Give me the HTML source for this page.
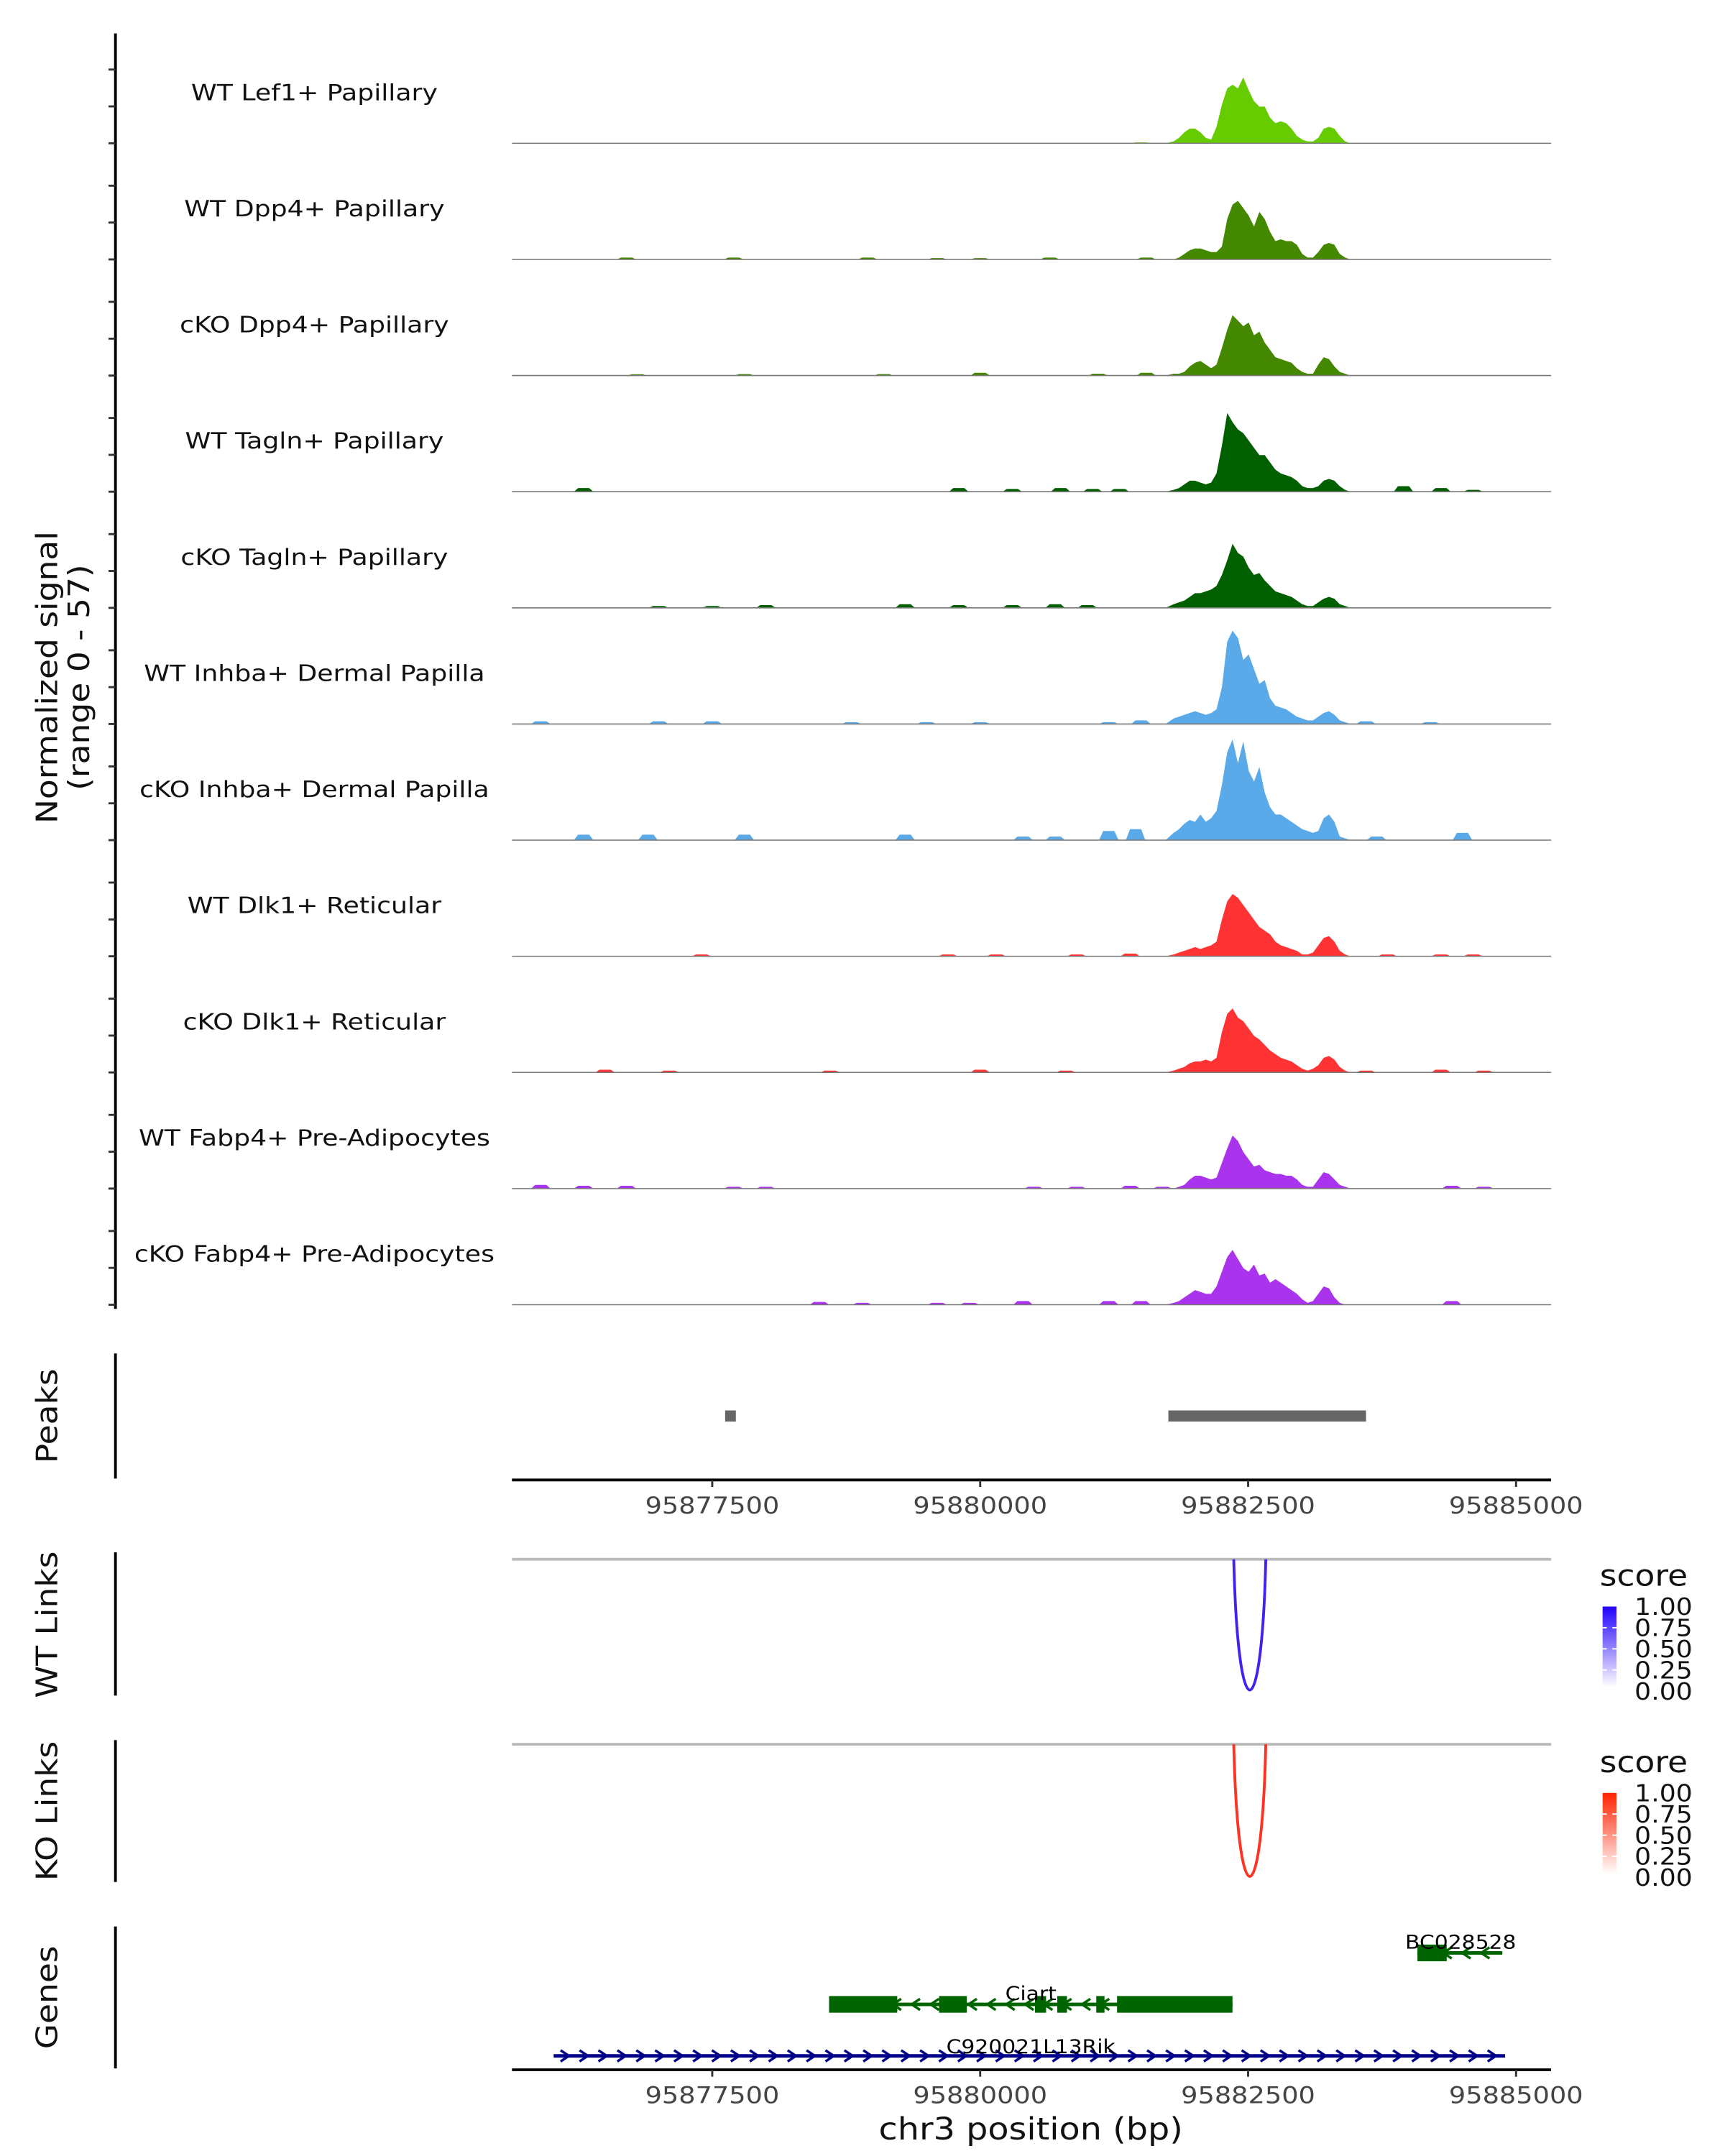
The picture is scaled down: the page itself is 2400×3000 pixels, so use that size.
<!DOCTYPE html>
<html><head><meta charset="utf-8">
<style>
html,body{margin:0;padding:0;background:#fff;}
svg{display:block;font-family:"DejaVu Sans","Liberation Sans",sans-serif;}
</style></head>
<body>
<svg id="chart" xmlns="http://www.w3.org/2000/svg" width="2400" height="3000" viewBox="0 0 1240 1550">
<defs>
<linearGradient id="gBlue" x1="0" y1="1" x2="0" y2="0"><stop offset="0" stop-color="#ffffff"/><stop offset="1" stop-color="#2200ff"/></linearGradient>
<linearGradient id="gRed" x1="0" y1="1" x2="0" y2="0"><stop offset="0" stop-color="#ffffff"/><stop offset="1" stop-color="#ff2200"/></linearGradient>
</defs>
<g id="tracks"></g>
<g id="static">
  <text class="w" transform="translate(41,487) rotate(-90)" text-anchor="middle" font-size="21" fill="#111">Normalized signal</text>
  <text class="w" transform="translate(64,487) rotate(-90)" text-anchor="middle" font-size="21" fill="#111">(range 0 - 57)</text>
  <text class="w" transform="translate(41,1018) rotate(-90)" text-anchor="middle" font-size="21" fill="#111">Peaks</text>
  <line x1="83" y1="973" x2="83" y2="1063" stroke="#000" stroke-width="2"/>
  <text class="w" transform="translate(41,1168) rotate(-90)" text-anchor="middle" font-size="21" fill="#111">WT Links</text>
  <line x1="83" y1="1116" x2="83" y2="1219" stroke="#000" stroke-width="2"/>
  <text class="w" transform="translate(41,1302) rotate(-90)" text-anchor="middle" font-size="21" fill="#111">KO Links</text>
  <line x1="83" y1="1251" x2="83" y2="1353" stroke="#000" stroke-width="2"/>
  <text class="w" transform="translate(41,1436) rotate(-90)" text-anchor="middle" font-size="21" fill="#111">Genes</text>
  <line x1="83" y1="1385" x2="83" y2="1487" stroke="#000" stroke-width="2"/>
  <line x1="368" y1="1121" x2="1115" y2="1121" stroke="#bbb" stroke-width="2"/>
  <line x1="368" y1="1254" x2="1115" y2="1254" stroke="#bbb" stroke-width="2"/>
  <text class="w" x="1150" y="1140" font-size="21" fill="#111">score</text>
  <rect x="1152" y="1155" width="10" height="58" fill="url(#gBlue)"/>
  <text class="w" x="1150" y="1274" font-size="21" fill="#111">score</text>
  <rect x="1152" y="1289" width="10" height="58" fill="url(#gRed)"/>
  <text class="w" x="741" y="1538" text-anchor="middle" font-size="22" fill="#111">chr3 position (bp)</text>
</g>
<g id="dyn"></g>
</svg>
<script>
// ---- data ----
const trackNames = ["WT Lef1+ Papillary","WT Dpp4+ Papillary","cKO Dpp4+ Papillary","WT Tagln+ Papillary","cKO Tagln+ Papillary","WT Inhba+ Dermal Papilla","cKO Inhba+ Dermal Papilla","WT Dlk1+ Reticular","cKO Dlk1+ Reticular","WT Fabp4+ Pre-Adipocytes","cKO Fabp4+ Pre-Adipocytes"];
const trackColors = ["#66cc00","#448800","#448800","#006000","#006000","#5aa9e9","#5aa9e9","#ff3333","#ff3333","#aa33ee","#aa33ee"];
const binStart = 95881780;
const binSize = 50;
const lef1WT   = [1,3,6,8,8,6,3,2,9,21,30,32,30,36,29,23,20,20,14,11,12,11,8,4,2,1,1,3,8,9,8,4,1,0];
const dpp4WT   = [0,1,3,5,6,6,5,4,4,7,22,30,32,28,24,18,26,22,15,10,11,10,10,8,3,1,1,4,8,9,8,3,1,0];
const dpp4KO   = [1,1,2,5,7,8,6,4,6,15,25,33,30,27,29,22,24,18,14,10,9,8,7,4,2,1,1,6,10,9,5,2,1,0];
const taglnWT  = [1,2,4,6,6,5,4,5,10,25,43,38,34,32,28,24,20,20,16,12,10,9,8,6,3,2,2,3,6,7,6,3,1,0];
const taglnKO  = [2,3,4,6,8,8,9,10,12,18,26,35,30,28,22,18,19,15,12,9,8,7,6,4,2,1,1,3,5,6,5,2,1,0];
const inhbaWT  = [3,4,5,6,7,6,5,6,8,20,45,51,47,35,38,30,22,24,14,10,9,8,6,4,3,2,2,4,6,7,5,2,1,0];
const inhbaKO  = [4,6,9,11,10,14,10,12,16,30,48,55,42,54,38,32,40,26,18,14,14,12,10,8,6,5,4,5,12,14,10,2,1,0];
const dlk1WT   = [1,2,3,4,5,4,5,6,8,20,30,34,32,28,24,20,16,14,12,8,6,5,4,3,1,1,2,6,10,11,8,3,1,0];
const dlk1KO   = [1,2,3,5,6,6,7,6,8,22,32,35,30,28,24,20,18,15,12,10,8,7,6,4,2,1,2,4,8,9,7,3,1,0];
const fabp4WT  = [0,1,2,5,7,7,6,5,6,14,22,29,26,20,16,12,13,10,9,8,8,7,7,5,2,1,1,5,9,8,5,2,1,0];
const fabp4KO  = [1,2,4,6,8,7,6,6,10,18,26,30,25,20,18,22,16,17,12,14,12,10,8,6,3,1,2,6,10,9,4,1,0,0];
// small background blips: [bp, height]
const blipsLef1  = [[95881500,0.5]];
const blipsDpp4W = [[95876700,1],[95877700,1],[95878950,1],[95879600,0.7],[95880000,0.7],[95880650,1],[95881550,1]];
const blipsDpp4K = [[95876800,0.7],[95877800,0.8],[95879100,0.8],[95880000,1.5],[95881100,1],[95881550,1.5]];
const blipsTagW  = [[95876300,2],[95879800,2],[95880300,1.5],[95880750,2],[95881050,1.5],[95881300,1.5],[95883950,3],[95884300,2],[95884600,1]];
const blipsTagK  = [[95877000,1],[95877500,1],[95878000,1.5],[95879300,2],[95879800,1.5],[95880300,1.5],[95880700,2],[95881000,1.5]];
const blipsInhW  = [[95875900,1.5],[95877000,1.5],[95877500,1.5],[95878800,1],[95879500,1],[95880000,1],[95881200,1],[95881500,2],[95883600,1.5],[95884200,1]];
const blipsInhK  = [[95876300,3],[95876900,3],[95877800,3],[95879300,3],[95880400,2],[95880700,2],[95881200,5],[95881450,6],[95883700,2],[95884500,4]];
const blipsDlkW  = [[95877400,1],[95879700,1],[95880150,1],[95880900,1],[95881400,1.5],[95883800,1],[95884300,1],[95884600,1]];
const blipsDlkK  = [[95876500,1.5],[95877100,1],[95878600,1],[95880000,1.5],[95880800,1],[95883600,1],[95884300,1.5],[95884700,1]];
const blipsFabW  = [[95875900,2],[95876300,1.5],[95876700,1.5],[95877700,1],[95878000,1],[95880500,1],[95880900,1],[95881400,1.5],[95881700,1],[95884400,1.5],[95884700,1]];
const blipsFabK  = [[95878500,1.5],[95878900,1],[95879600,1],[95879900,1],[95880400,2],[95881200,2],[95881500,2],[95884400,2]];
const trackValues = [lef1WT,dpp4WT,dpp4KO,taglnWT,taglnKO,inhbaWT,inhbaKO,dlk1WT,dlk1KO,fabp4WT,fabp4KO];
const trackBlips  = [blipsLef1,blipsDpp4W,blipsDpp4K,blipsTagW,blipsTagK,blipsInhW,blipsInhK,blipsDlkW,blipsDlkK,blipsFabW,blipsFabK];
const xTicks = [95877500,95880000,95882500,95885000];
const peakStarts = [95877620,95881756];
const peakEnds   = [95877720,95883600];
const wtLink = [95882366,95882665];
const koLink = [95882366,95882665];
const legendTicks = ["1.00","0.75","0.50","0.25","0.00"];
const ciartExonStart = [95878590,95879616,95880511,95880719,95881083,95881277];
const ciartExonEnd   = [95879226,95879875,95880615,95880810,95881160,95882354];
const ciartSpan = [95878590,95882354];
const bcExonStart = [95884080];
const bcExonEnd   = [95884353];
const bcSpan = [95884080,95884872];
const rikSpan = [95876020,95884898];

// ---- scales ----
const X0 = 368, X1 = 1115;
function xs(bp){ return 704.6 + (bp-95880000)*192.6/2500; }
const yUnit = 75/57;
const NS="http://www.w3.org/2000/svg";
function mk(tag, attrs, parent){ const e=document.createElementNS(NS,tag); for(const k in attrs) e.setAttribute(k,attrs[k]); parent.appendChild(e); return e; }
function widen(el,k){ try{ const L=el.getComputedTextLength(); el.setAttribute('textLength',(L*k).toFixed(1)); el.setAttribute('lengthAdjust','spacingAndGlyphs'); }catch(e){} }
const T=document.getElementById('tracks');
const D=document.getElementById('dyn');

const ax = mk('line',{x1:83,y1:24,x2:83,y2:941,stroke:'#000','stroke-width':2},T);



trackNames.forEach((name,t)=>{
  const base = 103 + t*83.5;
  const g = mk('g',{},T);
  
  
  for(let k=0;k<3;k++){
    const tk = mk('line',{x1:78,x2:83,y1:base-k*26.5,y2:base-k*26.5,stroke:'#333','stroke-width':1.5},g);
    
    
  }
  const lbl = mk('text',{x:226,y:base-31,'text-anchor':'middle','font-size':16,fill:'#111'},g);
  lbl.textContent=name;
  
  
  widen(lbl,1.17);
  const vals = trackValues[t];
  let d = 'M'+xs(binStart-binSize)+','+base;
  vals.forEach((v,i)=>{
    const xm = xs(binStart+i*binSize+binSize/2);
    const y = base - v*yUnit;
    d += ' L'+xm.toFixed(2)+','+y.toFixed(2);
  });
  d += ' L'+xs(binStart+vals.length*binSize)+','+base+' Z';
  const area = mk('path',{d:d,fill:trackColors[t]},g);
  
  
  trackBlips[t].forEach(b=>{
    const cx = xs(b[0]), h=b[1]*yUnit;
    const bp = mk('path',{d:'M'+(cx-7)+','+base+' L'+(cx-4)+','+(base-h)+' L'+(cx+4)+','+(base-h)+' L'+(cx+7)+','+base+' Z',fill:trackColors[t]},g);
    
    
  });
  const bl = mk('line',{x1:X0,x2:X1,y1:base,y2:base,stroke:'#777','stroke-width':0.8},g);
  
  
});

peakStarts.forEach((s,i)=>{
  const r = mk('rect',{x:xs(s),y:1014,width:Math.max(7,xs(peakEnds[i])-xs(s)),height:8,fill:'#666'},D);
  
  
});

function xAxis(y,name){
  const g=mk('g',{},D);
  
  
  mk('line',{x1:X0,x2:X1,y1:y,y2:y,stroke:'#000','stroke-width':2},g);
  xTicks.forEach(v=>{
    const x=xs(v);
    mk('line',{x1:x,x2:x,y1:y,y2:y+5,stroke:'#333','stroke-width':1.5},g);
    const tx=mk('text',{x:x,y:y+24,'text-anchor':'middle','font-size':16.5,fill:'#444'},g);
    tx.textContent=String(v);
    
    
    widen(tx,1.15);
  });
}
xAxis(1064,'peaks-x-axis');
xAxis(1488,'genes-x-axis');

function arc(span,top,apex,color,name){
  const x1=xs(span[0]), x2=xs(span[1]);
  const ctrl = top + (apex-top)/0.75;
  const p=mk('path',{d:'M'+x1+','+top+' C'+(x1+3)+','+ctrl+' '+(x2-3)+','+ctrl+' '+x2+','+top,fill:'none',stroke:color,'stroke-width':2},D);
  
  
}
arc(wtLink,1121,1215,'#4422ee','wt-link-arc');
arc(koLink,1254,1349,'#ff3322','ko-link-arc');

[[1155,'wt'],[1289,'ko']].forEach(([y0,k])=>{
  legendTicks.forEach((t,i)=>{
    const y=y0+i*15.2;
    const tx=mk('text',{x:1175,y:y+6,'font-size':17,fill:'#111'},D);
    tx.textContent=t;
    
    
    widen(tx,1.1);
    if(i>0&&i<4){ mk('line',{x1:1152,x2:1155,y1:y,y2:y,stroke:'#fff'},D); mk('line',{x1:1159,x2:1162,y1:y,y2:y,stroke:'#fff'},D); }
  });
});

function gene(span,y,color,dir,exS,exE,label,lx,ly,name){
  const g=mk('g',{},D);
  
  
  const xa=xs(span[0]), xb=xs(span[1]);
  mk('line',{x1:xa,x2:xb,y1:y,y2:y,stroke:color,'stroke-width':2.5},g);
  for(let x=xa+8;x<xb-2;x+=13.6){
    const dx = dir>0? -3:3;
    mk('polyline',{points:(x+dx)+','+(y-4)+' '+(x-dx)+','+y+' '+(x+dx)+','+(y+4),fill:'none',stroke:color,'stroke-width':1.8},g);
  }
  exS.forEach((s,i)=>{ mk('rect',{x:xs(s),y:y-6,width:xs(exE[i])-xs(s),height:12,fill:color},g); });
  const t=mk('text',{x:lx,y:ly,'text-anchor':'middle','font-size':14,fill:'#000'},g);
  t.textContent=label;
  
  
  widen(t,1.1);
}
gene(bcSpan,1404,'#006400',-1,bcExonStart,bcExonEnd,'BC028528',1050,1401,'gene-bc028528');
gene(ciartSpan,1441,'#006400',-1,ciartExonStart,ciartExonEnd,'Ciart',741,1438,'gene-ciart');
gene(rikSpan,1478,'#00008b',1,[],[],'C920021L13Rik',741,1476,'gene-c920021l13rik');

document.querySelectorAll('text.w').forEach(el=>widen(el,1.12));
</script>
</body></html>
